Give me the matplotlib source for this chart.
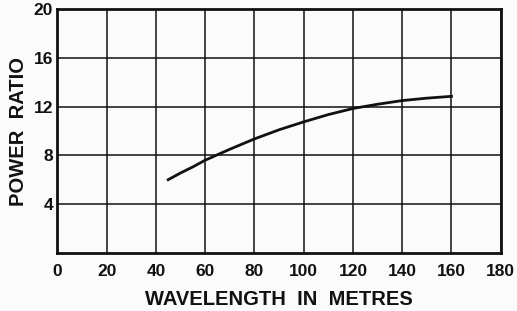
import numpy as np
import matplotlib.pyplot as plt

# power ratio vs wavelength
wavelength = [45, 50, 55, 60, 65, 70, 80, 90, 100, 110, 120, 130, 140, 150, 160]
power_ratio = [6.0, 6.55, 7.05, 7.6, 8.05, 8.5, 9.35, 10.1, 10.75, 11.35, 11.85, 12.2, 12.5, 12.7, 12.85]
xticks = [0, 20, 40, 60, 80, 100, 120, 140, 160, 180]
yticks = [4, 8, 12, 16, 20]

plt.rcParams['font.family'] = ['Liberation Sans', 'DejaVu Sans']
fig = plt.figure(figsize=(5.17, 3.11), dpi=100)
fig.patch.set_facecolor('#fbfbfb')
ax = fig.add_axes([0.111, 0.1875, 0.8575, 0.7825])
ax.set_facecolor('#fbfbfb')

ax.plot(wavelength, power_ratio, color='#111111', lw=2.0)

ax.set_xlim(0, 180)
ax.set_ylim(0, 20)
ax.set_xticks(xticks)
ax.set_yticks(yticks)
ax.grid(True, color='#111111', lw=1.1)
for s in ax.spines.values():
    s.set_linewidth(2)
    s.set_color('#111111')
ax.tick_params(length=0, labelsize=12.5, pad=8, colors='#111111')
for lab in ax.get_xticklabels() + ax.get_yticklabels():
    lab.set_fontweight('bold')
ax.tick_params(axis='y', pad=3)

ax.set_xlabel('WAVELENGTH  IN  METRES', fontsize=14.5, fontweight='bold', labelpad=8, color='#111111')
ax.set_ylabel('POWER  RATIO', fontsize=14.5, fontweight='bold', labelpad=4, color='#111111')

plt.savefig('out.png', facecolor=fig.get_facecolor())
